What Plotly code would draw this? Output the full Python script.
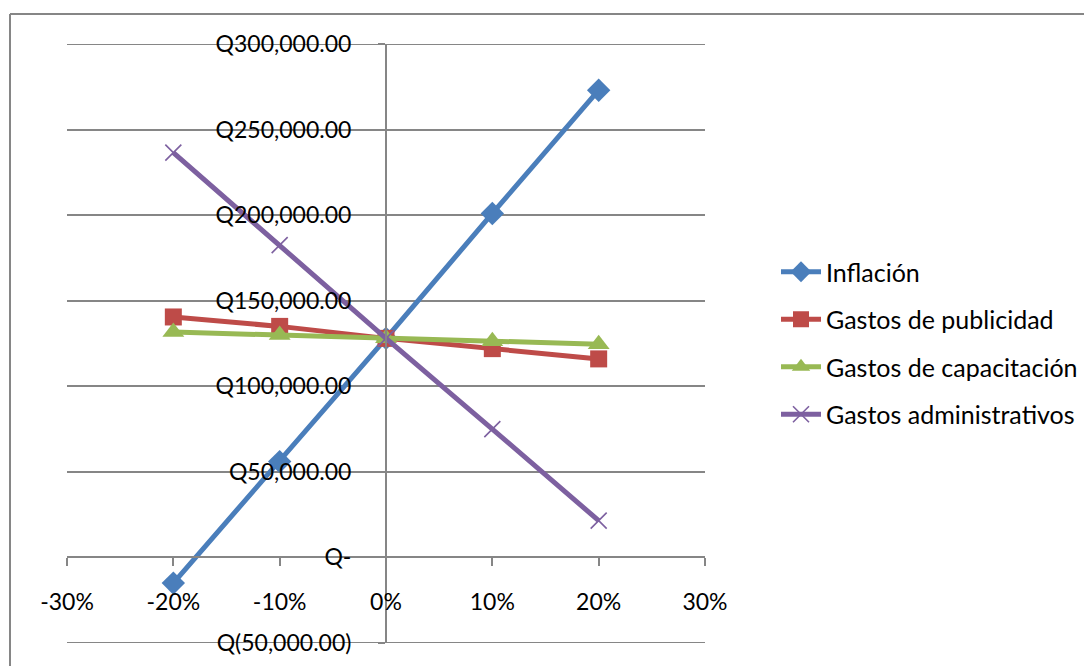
import plotly.graph_objects as go

x_vals = [-0.2, -0.1, 0.0, 0.1, 0.2]
inflacion = [-15000, 56000, 128000, 201000, 273000]
publicidad = [140500, 135000, 128000, 122000, 116000]
capacitacion = [131700, 129900, 128000, 126300, 124600]
administrativos = [236500, 182500, 128000, 75000, 21500]

series_names = ["Inflación", "Gastos de publicidad", "Gastos de capacitación", "Gastos administrativos"]
colors = ["#4A7EBB", "#BE4B48", "#98B954", "#7D60A0"]
symbols = ["diamond", "square", "triangle-up", "x-thin"]

y_tickvals = [-50000, 0, 50000, 100000, 150000, 200000, 250000, 300000]
y_ticktext = ["Q(50,000.00)", "Q-", "Q50,000.00", "Q100,000.00", "Q150,000.00",
              "Q200,000.00", "Q250,000.00", "Q300,000.00"]
x_tickvals = [-0.3, -0.2, -0.1, 0.0, 0.1, 0.2, 0.3]
x_ticktext = ["-30%", "-20%", "-10%", "0%", "10%", "20%", "30%"]

W, H = 1084, 666
L, R, T, B = 67, 1084 - 705, 44, 666 - 643
pw, ph = W - L - R, H - T - B

fig = go.Figure()
all_data = [inflacion, publicidad, capacitacion, administrativos]
for i, (name, data) in enumerate(zip(series_names, all_data)):
    if symbols[i] == "x-thin":
        marker = dict(symbol="x-thin", size=16, line=dict(color=colors[i], width=1.6), color=colors[i])
    else:
        size = {"diamond": 18, "square": 17, "triangle-up": 19}[symbols[i]]
        marker = dict(symbol=symbols[i], size=size, color=colors[i], line=dict(width=0))
    fig.add_trace(go.Scatter(
        x=x_vals, y=data, name=name, mode="lines+markers",
        line=dict(color=colors[i], width=5), marker=marker,
        legendgroup=f"g{i}", cliponaxis=False,
    ))

font_family = "Lato, 'Open Sans', sans-serif"

fig.update_layout(
    width=W, height=H,
    margin=dict(l=L, r=R, t=T, b=B, autoexpand=False),
    paper_bgcolor="white", plot_bgcolor="white",
    font=dict(family=font_family, size=23, color="black"),
    showlegend=True,
    legend=dict(
        x=(776 - L) / pw, y=(666 - 249 - B) / ph, xanchor="left", yanchor="top",
        font=dict(size=25), traceorder="grouped", tracegroupgap=12,
        bgcolor="rgba(0,0,0,0)", itemwidth=40,
    ),
    xaxis=dict(
        range=[-0.3, 0.3], tickvals=x_tickvals, ticktext=x_ticktext,
        showgrid=False, zeroline=False, showline=True, linecolor="#868686", linewidth=2,
        anchor="free", position=(643 - 557) / ph,
        ticks="outside", ticklen=8, tickwidth=2, tickcolor="#868686",
        ticklabelstandoff=16, tickfont=dict(size=23),
    ),
    yaxis=dict(
        range=[-50000, 300000], tickvals=y_tickvals, ticktext=y_ticktext,
        showgrid=True, gridcolor="#868686", gridwidth=2, zeroline=False,
        showline=True, linecolor="#868686", linewidth=2,
        anchor="free", position=0.5,
        ticks="outside", ticklen=7, tickwidth=2, tickcolor="#868686",
        ticklabelstandoff=22, tickfont=dict(size=23),
    ),
)

# gridlines at range edges (plotly omits them)
for yv in (y_tickvals[0], y_tickvals[-1]):
    fig.add_shape(type="line", xref="x", yref="y", x0=x_tickvals[0], x1=x_tickvals[-1],
                  y0=yv, y1=yv, line=dict(color="#868686", width=2), layer="below")

# outer chart border (top and left edges visible)
fig.add_shape(type="line", xref="paper", yref="paper",
              x0=(10 - L) / pw, x1=(1084 - L) / pw,
              y0=(H - B - 14) / ph, y1=(H - B - 14) / ph,
              line=dict(color="#868686", width=2))
fig.add_shape(type="line", xref="paper", yref="paper",
              x0=(10 - L) / pw, x1=(10 - L) / pw,
              y0=(H - B - 14) / ph, y1=(H - B - 670) / ph,
              line=dict(color="#868686", width=2))

fig.write_html("out.html")
